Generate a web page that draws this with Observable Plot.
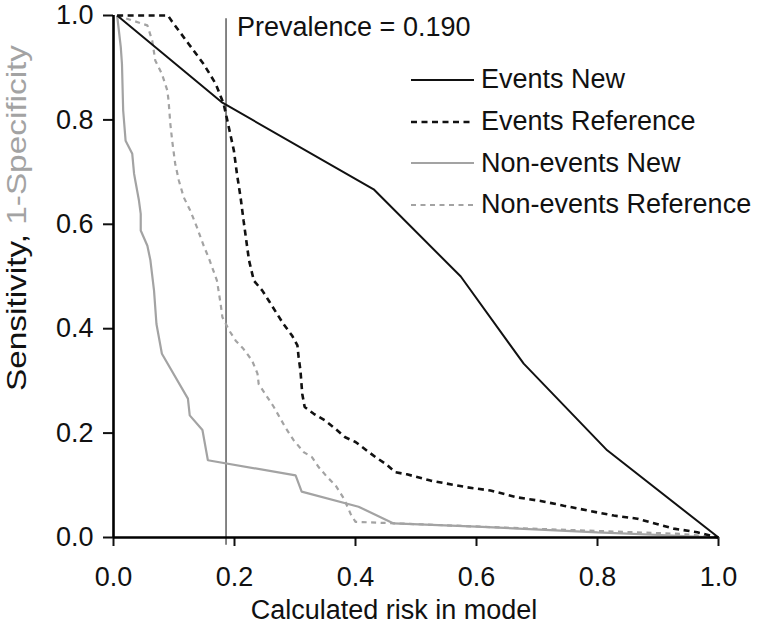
<!DOCTYPE html>
<html><head><meta charset="utf-8">
<script src="https://cdn.jsdelivr.net/npm/d3@7"></script>
<script src="https://cdn.jsdelivr.net/npm/@observablehq/plot@0.6"></script>
<style>
body{margin:0;background:#fff;}
#wrap{position:relative;width:763px;height:630px;font-family:"Liberation Sans",Arial,sans-serif;}
#legend{position:absolute;left:411px;top:59px;}
.row{display:flex;align-items:center;height:41.7px;}
.row svg{width:63px;height:10px;margin-right:7px;flex:none}
.row span{font-size:27px;color:#111;line-height:1;white-space:nowrap}
</style></head>
<body><div id="wrap"></div>
<script>
// ---- data ----
const xTicks = [0, 0.2, 0.4, 0.6, 0.8, 1.0];
const yTicks = [0, 0.2, 0.4, 0.6, 0.8, 1.0];
const prevalence = 0.190;
const prevalenceLineX = 0.186;

const seriesNames = ["Events New", "Events Reference", "Non-events New", "Non-events Reference"];

const eventsNewX = [0.006, 0.180, 0.430, 0.574, 0.678, 0.816, 1.0];
const eventsNewY = [1.0, 0.833, 0.667, 0.500, 0.333, 0.167, 0.0];

const eventsRefX = [0.006, 0.090, 0.097, 0.124, 0.149, 0.169, 0.182, 0.187, 0.193, 0.199, 0.204, 0.210, 0.215, 0.221, 0.224, 0.232, 0.246, 0.257, 0.270, 0.281, 0.295, 0.304, 0.306, 0.309, 0.312, 0.316, 0.331, 0.350, 0.367, 0.383, 0.400, 0.433, 0.450, 0.466, 0.485, 0.524, 0.585, 0.623, 0.667, 0.706, 0.744, 0.800, 0.827, 0.866, 0.888, 0.926, 0.965, 1.0];
const eventsRefY = [1.0, 1.0, 0.988, 0.946, 0.907, 0.869, 0.831, 0.805, 0.773, 0.741, 0.697, 0.652, 0.607, 0.556, 0.531, 0.492, 0.473, 0.453, 0.429, 0.409, 0.387, 0.368, 0.345, 0.320, 0.275, 0.250, 0.237, 0.224, 0.208, 0.192, 0.183, 0.154, 0.141, 0.125, 0.121, 0.109, 0.096, 0.090, 0.077, 0.070, 0.061, 0.048, 0.042, 0.036, 0.029, 0.017, 0.010, 0.0];

const nonEventsNewX = [0.006, 0.012, 0.014, 0.016, 0.020, 0.031, 0.034, 0.036, 0.042, 0.045, 0.045, 0.056, 0.061, 0.067, 0.069, 0.071, 0.080, 0.123, 0.126, 0.147, 0.156, 0.301, 0.311, 0.405, 0.463, 0.600, 0.800, 1.0];
const nonEventsNewY = [1.0, 0.940, 0.907, 0.818, 0.760, 0.735, 0.697, 0.684, 0.646, 0.620, 0.588, 0.559, 0.531, 0.473, 0.441, 0.409, 0.352, 0.266, 0.234, 0.206, 0.148, 0.119, 0.088, 0.059, 0.027, 0.021, 0.010, 0.0];

const nonEventsRefX = [0.006, 0.056, 0.064, 0.069, 0.080, 0.089, 0.091, 0.094, 0.097, 0.102, 0.108, 0.116, 0.127, 0.138, 0.149, 0.158, 0.171, 0.177, 0.180, 0.191, 0.202, 0.215, 0.229, 0.238, 0.240, 0.265, 0.284, 0.298, 0.315, 0.328, 0.339, 0.353, 0.367, 0.381, 0.392, 0.400, 0.469, 0.690, 0.937, 1.0];
const nonEventsRefY = [1.0, 0.981, 0.952, 0.914, 0.888, 0.856, 0.837, 0.792, 0.760, 0.716, 0.684, 0.652, 0.626, 0.594, 0.559, 0.534, 0.492, 0.448, 0.422, 0.397, 0.377, 0.361, 0.339, 0.314, 0.294, 0.250, 0.211, 0.186, 0.163, 0.154, 0.135, 0.116, 0.100, 0.074, 0.045, 0.030, 0.027, 0.017, 0.007, 0.0];

// ---- styles ----
const GRAY = "#a3a3a3";
const styles = {
  "Events New": {stroke: "#111", strokeWidth: 2, dash: null},
  "Events Reference": {stroke: "#111", strokeWidth: 2.6, dash: "6,4.5"},
  "Non-events New": {stroke: GRAY, strokeWidth: 2.2, dash: null},
  "Non-events Reference": {stroke: GRAY, strokeWidth: 2.2, dash: "5,4.5"}
};

const toRows = (xs, ys, name) => xs.map((x, i) => ({x, y: ys[i], series: name}));
const data = {
  "Events New": toRows(eventsNewX, eventsNewY, "Events New"),
  "Events Reference": toRows(eventsRefX, eventsRefY, "Events Reference"),
  "Non-events New": toRows(nonEventsNewX, nonEventsNewY, "Non-events New"),
  "Non-events Reference": toRows(nonEventsRefX, nonEventsRefY, "Non-events Reference")
};

const lineMark = name => Plot.line(data[name], {
  x: "x", y: "y", stroke: styles[name].stroke, strokeWidth: styles[name].strokeWidth,
  strokeDasharray: styles[name].dash, strokeLinejoin: "miter", strokeLinecap: "butt"
});

const fmt = d3.format(".1f");
const FONT = "27px";

const plot = Plot.plot({
  width: 763, height: 630,
  marginLeft: 113, marginRight: 45, marginTop: 15, marginBottom: 93,
  style: {fontFamily: "'Liberation Sans', Arial, sans-serif", fontSize: FONT, color: "#111", background: "#fff"},
  x: {domain: [0, 1]},
  y: {domain: [0, 1]},
  marks: [
    Plot.axisX({ticks: xTicks, tickFormat: fmt, tickSize: 9, tickPadding: 20, strokeWidth: 2, label: null, fontSize: FONT}),
    Plot.axisY({ticks: yTicks, tickFormat: fmt, tickSize: 10, tickPadding: 10, strokeWidth: 2, label: null, fontSize: FONT}),
    Plot.ruleX([prevalenceLineX], {y1: -0.015, y2: 0.994, stroke: "#333", strokeWidth: 1.2}),
    lineMark("Non-events Reference"),
    lineMark("Non-events New"),
    lineMark("Events Reference"),
    lineMark("Events New"),
    Plot.ruleX([0], {stroke: "#000", strokeWidth: 2.6}),
    Plot.ruleY([0], {stroke: "#000", strokeWidth: 2.6}),
    Plot.text([`Prevalence = ${prevalence.toFixed(3)}`], {
      x: prevalenceLineX, frameAnchor: "top", textAnchor: "start", lineAnchor: "middle",
      dx: 11, dy: 12, fontSize: FONT, fill: "#111"
    }),
    Plot.text(["Calculated risk in model"], {
      frameAnchor: "bottom", textAnchor: "middle", lineAnchor: "top",
      dx: -22, dy: 62, fontSize: FONT, fill: "#111"
    })
  ]
});

// y-axis title with two colours
const ylab = d3.select(plot).append("text")
  .attr("transform", "translate(26,218) rotate(-90)")
  .attr("text-anchor", "middle")
  .attr("textLength", 346)
  .attr("lengthAdjust", "spacingAndGlyphs")
  .style("font-size", "28px")
  .style("font-family", "'Liberation Sans', Arial, sans-serif");
ylab.append("tspan").attr("fill", "#111").text("Sensitivity, ");
ylab.append("tspan").attr("fill", GRAY).text("1-Specificity");

const wrap = document.getElementById("wrap");
wrap.appendChild(plot);

// legend
const legend = document.createElement("div");
legend.id = "legend";
for (const name of seriesNames) {
  const s = styles[name];
  const row = document.createElement("div");
  row.className = "row";
  row.innerHTML = `<svg viewBox="0 0 63 10"><line x1="0" x2="63" y1="5" y2="5" stroke="${s.stroke}" stroke-width="${s.strokeWidth}" ${s.dash ? `stroke-dasharray="${s.dash}"` : ""}/></svg><span>${name}</span>`;
  legend.appendChild(row);
}
wrap.appendChild(legend);
</script>
</body></html>
